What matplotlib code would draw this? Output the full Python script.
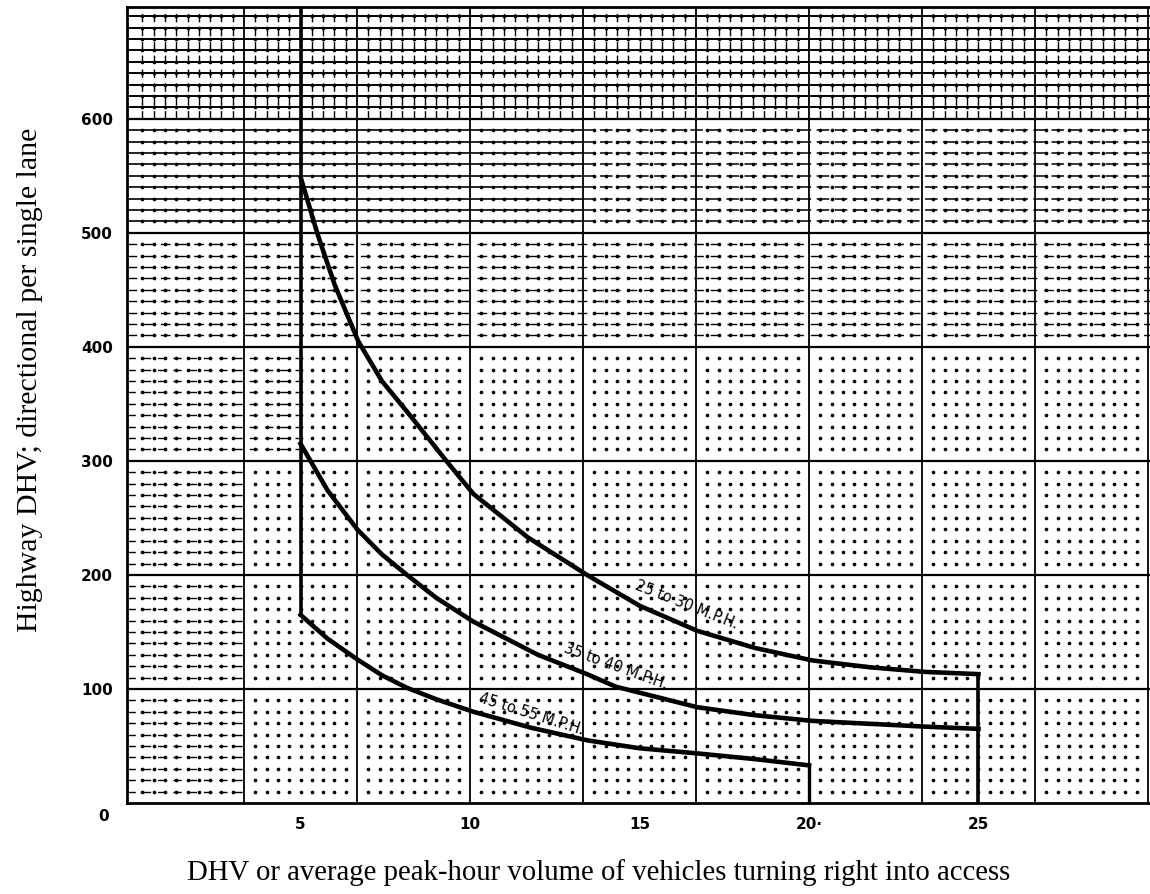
import matplotlib
matplotlib.use("Agg")
import matplotlib.pyplot as plt
import numpy as np

plt.rcParams["lines.scale_dashes"] = False

# curves (x = turning vehicles, y = highway DHV)
c1_x = [5, 5.5, 6.0, 6.7, 7.4, 8.2, 9.3, 10.1, 11.7, 13.45, 15.0, 16.7, 18.4, 20.1, 21.8, 23.4, 25]
c1_y = [549, 499, 455, 405, 370, 341, 300, 271, 233, 200, 173, 151, 136, 125, 119, 115, 113]
c2_x = [5, 5.8, 6.67, 7.4, 8.14, 9.0, 10.1, 12.0, 13.45, 14.3, 16.7, 18.4, 20.1, 23.4, 25]
c2_y = [315, 274, 240, 218, 200, 180, 159, 130, 113, 102, 84, 77, 72, 67, 65]
c3_x = [5, 5.8, 6.67, 7.4, 8.14, 9.0, 10.1, 11.8, 13.45, 15.0, 16.7, 18.4, 20]
c3_y = [165, 144, 126, 112, 101, 91, 80, 66, 55, 48, 43.5, 38.5, 33]

curve_labels = ["25 to 30 M.P.H.", "35 to 40 M.P.H.", "45 to 55 M.P.H."]
label_pos = [(16.4, 174, -21.5), (14.3, 120, -20), (11.8, 78, -17.5)]

x_ticks = [5, 10, 15, 20, 25]
x_ticklabels = ["5", "10", "15", "20·", "25"]
y_ticks = [100, 200, 300, 400, 500, 600]

XMIN, XMAX = -0.12, 30.06
YMIN, YMAX = 0, 698

fig = plt.figure(figsize=(11.5, 8.94), dpi=100)
ax = fig.add_axes([127 / 1150, 91 / 894, 1023 / 1150, 796 / 894])
ax.set_xlim(XMIN, XMAX)
ax.set_ylim(YMIN, YMAX)

# ---- graph paper ----
step_x = 10 / 3
major_x = np.arange(1, 10) * step_x
minor_x = np.arange(1, 91) / 3
minor_x = minor_x[np.abs(minor_x / step_x - np.round(minor_x / step_x)) > 1e-6]
major_y = np.arange(100, 700, 100)
minor_y = np.arange(10, 700, 10)
minor_y = minor_y[minor_y % 100 != 0]

gx, gy = np.meshgrid(minor_x, minor_y)
ax.scatter(gx.ravel(), gy.ravel(), s=7, color="black", lw=0, zorder=1)

for y in minor_y:
    if y > 600:
        ax.hlines(y, XMIN, XMAX, color="black", lw=1.4, zorder=1)
    elif y > 500:
        ax.hlines(y, XMIN, 13.3, color="black", lw=1.2, zorder=1)
        ax.hlines(y, 13.3, XMAX, color="black", lw=1.1, linestyle=(0, (9, 4)), zorder=1)
    elif y > 400:
        ax.hlines(y, XMIN, XMAX, color="black", lw=1.0, linestyle=(0, (7, 5)), zorder=1)
    elif y > 300:
        ax.hlines(y, XMIN, 5, color="black", lw=1.0, linestyle=(0, (6, 5)), zorder=1)
    else:
        ax.hlines(y, XMIN, step_x, color="black", lw=1.0, linestyle=(0, (6, 5)), zorder=1)

for x in minor_x:
    ax.vlines(x, 600, YMAX, color="black", lw=1.0, linestyle=(0, (6, 4)), zorder=1)

for x in major_x:
    ax.axvline(x, color="black", lw=1.3, zorder=2)
for y in major_y:
    ax.axhline(y, color="black", lw=1.6, zorder=2)

# ---- curves ----
ax.plot(c1_x, c1_y, color="black", lw=3.3, solid_joinstyle="round", zorder=4)
ax.plot(c2_x, c2_y, color="black", lw=3.3, solid_joinstyle="round", zorder=4)
ax.plot(c3_x, c3_y, color="black", lw=3.3, solid_joinstyle="round", zorder=4)
ax.plot([5, 5], [c3_y[0], YMAX], color="black", lw=2.6, zorder=4)
ax.plot([25, 25], [0, c1_y[-1]], color="black", lw=2.6, zorder=4)
ax.plot([20, 20], [0, c3_y[-1]], color="black", lw=2.4, zorder=4)

for text, (lx, ly, rot) in zip(curve_labels, label_pos):
    ax.text(lx, ly, text, rotation=rot, rotation_mode="anchor", ha="center",
            va="center", fontsize=10.5, color="black", zorder=5)

# ---- axes ----
for side in ["left", "bottom", "top"]:
    ax.spines[side].set_linewidth(2.0)
ax.spines["right"].set_visible(False)

ax.set_xticks(x_ticks)
ax.set_xticklabels(x_ticklabels, fontsize=11, fontweight="bold")
ax.set_yticks(y_ticks)
ax.set_yticklabels([str(v) for v in y_ticks], fontsize=11, fontweight="bold")
ax.tick_params(length=0, pad=10)
ax.annotate("0", (XMIN, 0), xytext=(-17, -10), textcoords="offset points",
            ha="center", va="center", fontsize=11, fontweight="bold")

fig.text(599 / 1150, 1 - 873 / 894,
         "DHV or average peak-hour volume of vehicles turning right into access",
         ha="center", va="center", fontsize=20.7, family="Liberation Serif")
fig.text(30 / 1150, 1 - 380 / 894, "Highway DHV; directional per single lane",
         ha="center", va="center", rotation=90, fontsize=21.5, family="Liberation Serif")

plt.savefig("out.png", dpi=100)
